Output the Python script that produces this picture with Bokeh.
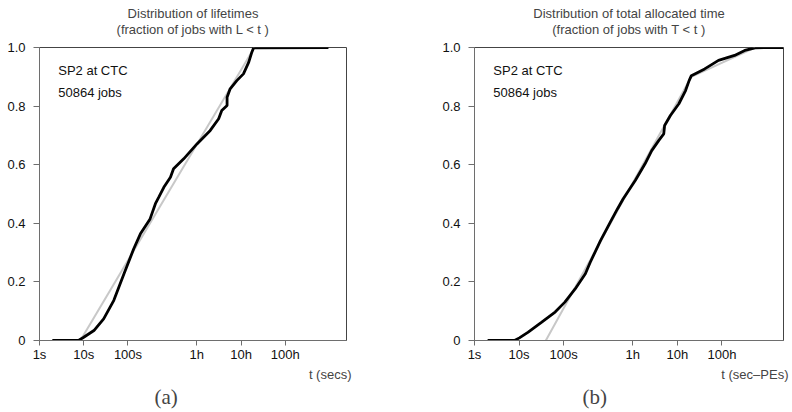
from bokeh.plotting import figure
from bokeh.models import Range1d, FixedTicker, Title, Label
from bokeh.layouts import row
from bokeh.embed import file_html
from bokeh.resources import INLINE

# ---- data (t in seconds / sec-PEs, F = cumulative fraction) ----
life_t = [1.95, 7.6, 10.0, 17.0, 28.2, 47.9, 81.3, 135, 191, 316, 417, 501, 646,
          912, 1072, 1820, 3630, 7244, 11220, 13183, 17378, 17378, 20417, 28840,
          40738, 53703, 63096, 69183, 3.4e6]
life_f = [0.0, 0.0, 0.011, 0.034, 0.074, 0.137, 0.228, 0.313, 0.364, 0.415, 0.467,
          0.49, 0.523, 0.557, 0.586, 0.620, 0.671, 0.717, 0.757, 0.785, 0.802, 0.83,
          0.859, 0.887, 0.91, 0.95, 0.984, 0.999, 1.0]
life_fit_t = [8.4, 72000]
life_fit_f = [0.0, 1.0]

alloc_t = [1.97, 7.9, 10.2, 15.8, 32.4, 64.6, 107, 182, 309, 398, 676, 1122, 1622,
           2188, 4074, 6761, 9550, 13804, 17783, 18621, 25119, 38905, 54954, 66069,
           74131, 147911, 301995, 691831, 1.175e6, 2.0e6, 8.7e6]
alloc_f = [0.0, 0.0, 0.009, 0.028, 0.063, 0.097, 0.131, 0.176, 0.228, 0.267, 0.341,
           0.404, 0.449, 0.484, 0.546, 0.603, 0.648, 0.683, 0.705, 0.734, 0.768,
           0.808, 0.853, 0.887, 0.904, 0.927, 0.956, 0.973, 0.99, 0.999, 1.0]
alloc_fit_t = [40, 74000, 2.0e6]
alloc_fit_f = [0.0, 0.9, 1.0]

x_ticks = [1, 10, 100, 3600, 36000, 360000]
x_tick_labels = ["1s", "10s", "100s", "1h", "10h", "100h"]
y_ticks = [0, 0.2, 0.4, 0.6, 0.8, 1.0]
y_tick_labels = ["0", "0.2", "0.4", "0.6", "0.8", "1.0"]

SANS = "'Liberation Sans', Arial, Helvetica, sans-serif"
SERIF = "'Liberation Serif', 'Times New Roman', serif"
FS = "13px"


def panel(t, f, ft, ff, title1, title2, xlabel, tag, bl, br, tag_off):
    p = figure(width=396, height=412, x_axis_type="log",
               x_range=Range1d(1, 8.7e6), y_range=Range1d(0, 1),
               output_backend="svg", toolbar_location=None, title_location=None,
               min_border_left=bl, min_border_right=br, min_border_top=47,
               min_border_bottom=72)
    p.grid.visible = False
    p.outline_line_color = "#444444"
    p.background_fill_color = "white"
    p.border_fill_color = "white"

    p.xaxis.ticker = FixedTicker(ticks=x_ticks)
    p.xaxis.major_label_overrides = {v: s for v, s in zip(x_ticks, x_tick_labels)}
    p.yaxis.ticker = FixedTicker(ticks=y_ticks)
    p.yaxis.major_label_overrides = {v: s for v, s in zip(y_ticks, y_tick_labels)}
    for ax in (p.xaxis, p.yaxis):
        ax.axis_line_color = "#6e6e6e"
        ax.major_tick_line_color = "#6e6e6e"
        ax.minor_tick_line_color = None
        ax.major_tick_in = 0
        ax.major_tick_out = 6
        ax.major_label_text_font = SANS
        ax.major_label_text_font_size = FS
        ax.major_label_text_color = "#111111"
    p.xaxis.major_tick_out = 5
    p.xaxis.major_label_standoff = 1
    p.yaxis.major_label_standoff = 8

    p.line(ft, ff, line_color="#c8c8c8", line_width=2)
    p.line(t, f, line_color="black", line_width=2.8)

    for yy, txt in ((0.92, "SP2 at CTC"), (0.846, "50864 jobs")):
        p.add_layout(Label(x=2.65, y=yy, text=txt, text_font=SANS, text_font_size=FS,
                           text_baseline="middle", text_color="#111111"))

    p.add_layout(Title(text=title2, align="center", text_font=SANS, text_font_size=FS,
                       text_font_style="normal", standoff=21), "above")
    p.add_layout(Title(text=title1, align="center", text_font=SANS, text_font_size=FS,
                       text_font_style="normal", standoff=-22), "above")
    p.add_layout(Title(text=xlabel, align="right", text_font=SANS, text_font_size=FS,
                       text_font_style="normal", offset=-5, standoff=0), "below")
    p.add_layout(Title(text=tag, align="left", text_font=SERIF,
                       text_font_size="21px", text_font_style="normal",
                       offset=tag_off, standoff=3), "below")
    return p


pa = panel(life_t, life_f, life_fit_t, life_fit_f, "Distribution of lifetimes",
           "(fraction of jobs with L < t )", "t (secs)", "(a)", 39, 50, 115)
pb = panel(alloc_t, alloc_f, alloc_fit_t, alloc_fit_f,
           "Distribution of total allocated time", "(fraction of jobs with T < t )",
           "t (sec\u2013PEs)", "(b)", 78, 9, 108)

layout = row(pa, pb)
open("out.html", "w").write(file_html(layout, INLINE))
